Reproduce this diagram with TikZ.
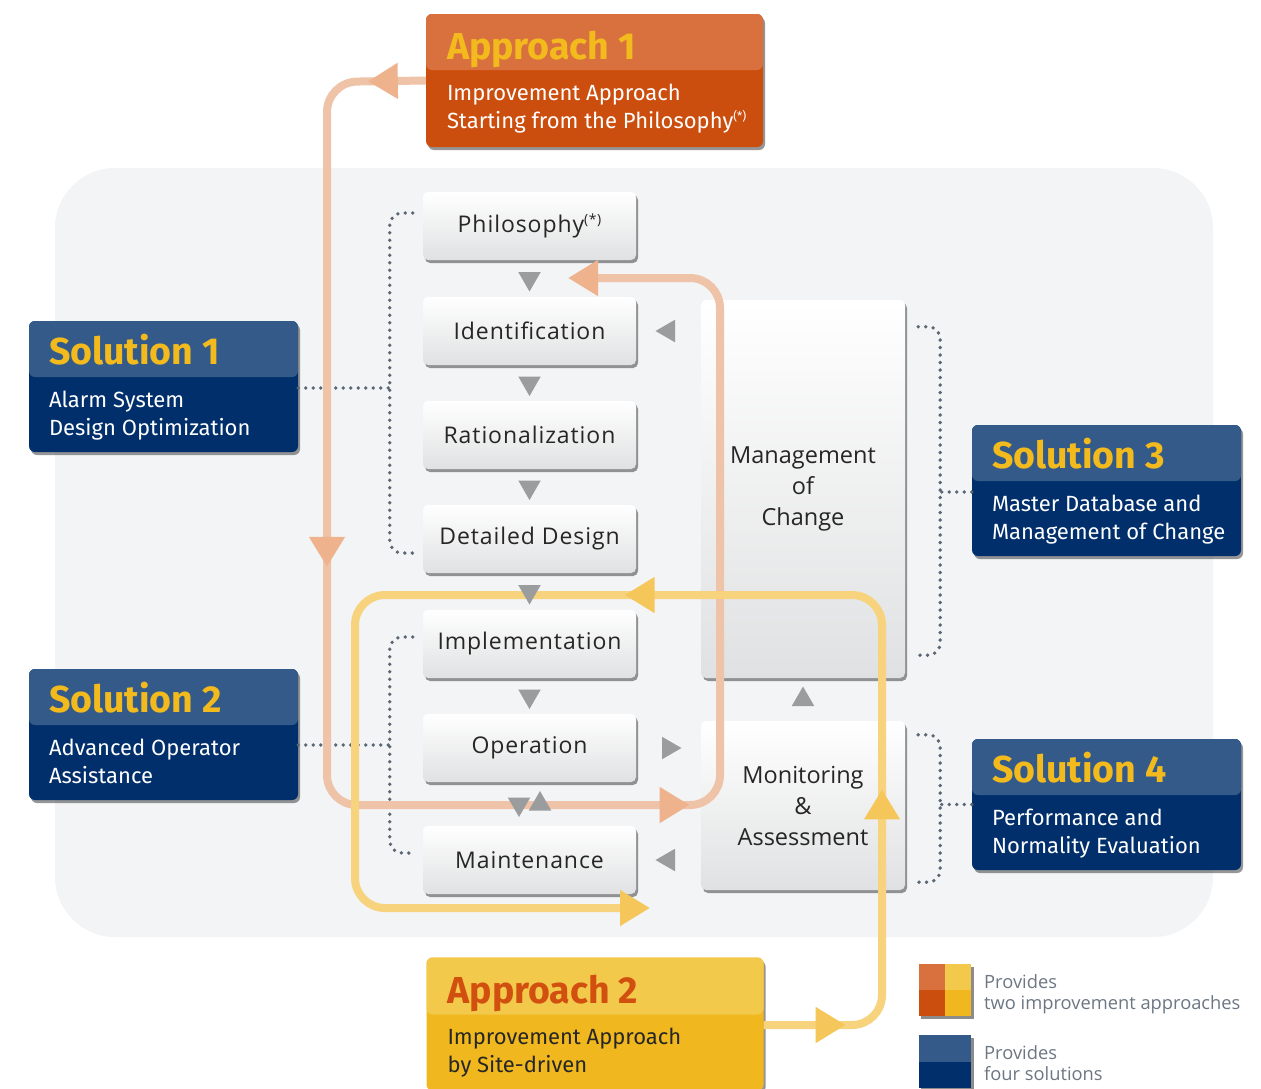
\documentclass[tikz,border=0pt]{standalone}
\usepackage{fontspec}
\setmainfont{Open Sans}
\newfontfamily\stepfont[LetterSpace=4.0]{Open Sans}
\newfontfamily\boxfont{Fira Sans}
\usetikzlibrary{calc,shapes.geometric,shadows,arrows.meta,decorations.markings}

\definecolor{panelgray}{HTML}{F3F4F6}
\definecolor{stepgray}{HTML}{E0E1E2}
\definecolor{textdark}{HTML}{262626}
\definecolor{trigray}{HTML}{9B9C9D}
\definecolor{dotgray}{HTML}{5A6774}
\definecolor{apporange}{HTML}{D9713F}
\definecolor{appdeep}{HTML}{CC4E0E}
\definecolor{appyellow}{HTML}{F2C94B}
\definecolor{appgold}{HTML}{F0B81E}
\definecolor{solhead}{HTML}{345A8A}
\definecolor{solblue}{HTML}{002F6C}
\definecolor{titlegold}{HTML}{F2BA1D}
\definecolor{titleorange}{HTML}{D2500F}
\definecolor{orangeloop}{HTML}{EFC3A7}
\definecolor{orangehead}{HTML}{EEB28D}
\definecolor{yellowloop}{HTML}{F6D37C}
\definecolor{yellowhead}{HTML}{F5C75B}
\definecolor{legendtext}{HTML}{6C7784}

\newcommand{\starnote}[2]{\raisebox{#1}{\fontsize{#2}{#2}\selectfont(*)}}

\tikzset{
  ohead/.tip={Triangle[length=30pt,width=34pt,color=orangehead]},
  yhead/.tip={Triangle[length=30pt,width=34pt,color=yellowhead]}
}

\begin{document}
\begin{tikzpicture}[x=1pt,y=-1pt,
  boxshadow/.style={drop shadow={shadow xshift=2pt,shadow yshift=-3pt,fill=black!75,opacity=.55}},
  stepbox/.style={rounded corners=5pt, minimum width=213pt, minimum height=68pt, inner sep=0pt,
    top color=white, bottom color=stepgray, boxshadow, text=textdark,
    font=\stepfont\fontsize{23}{28}\selectfont},
  cyclebox/.style={stepbox, minimum width=204pt, align=center,
    font=\fontsize{23.5}{31}\selectfont},
  solbox/.style={rounded corners=6pt, minimum width=269pt, minimum height=131pt, fill=solblue, boxshadow,
    path picture={\fill[solhead] (path picture bounding box.north west) rectangle ([yshift=-56pt]path picture bounding box.north east);}},
  appbox/.style={rounded corners=6pt, minimum width=337pt, minimum height=133pt, boxshadow},
  soltitle/.style={anchor=base west, inner sep=0pt, text=titlegold, font=\boxfont\bfseries\fontsize{37.5}{40}\selectfont},
  solbody/.style={anchor=base west, align=left, inner sep=0pt, text=white, font=\boxfont\fontsize{22}{28}\selectfont},
  tri/.style={regular polygon, regular polygon sides=3, fill=trigray, minimum size=26pt, inner sep=0pt},
  dotline/.style={draw=dotgray, line width=3.8pt, line cap=round, dash pattern=on 0pt off 7.5pt},
  loop/.style={line width=8pt, rounded corners=30pt},
  legend/.style={anchor=base west, align=left, inner sep=0pt, text=legendtext, font=\fontsize{18.3}{21}\selectfont}
]

\fill[white] (0,0) rectangle (1261,1088);
\useasboundingbox (0,0) rectangle (1261,1088);
\fill[panelgray, rounded corners=60pt] (55,168) rectangle (1213,937);

% life cycle steps
\node[stepbox] (phil)   at (529.5,226) {Philosophy\starnote{8pt}{14}};
\node[stepbox] (ident)  at (529.5,331) {Identification};
\node[stepbox] (ration) at (529.5,435) {Rationalization};
\node[stepbox] (detail) at (529.5,539) {Detailed Design};
\node[stepbox] (impl)   at (529.5,644) {Implementation};
\node[stepbox] (oper)   at (529.5,748) {Operation};
\node[stepbox] (maint)  at (529.5,860) {Maintenance};

\node[cyclebox, minimum height=378pt] (moc) at (803,489) {Management\\of\\Change};
\node[cyclebox, minimum height=169pt] (mon) at (803,805.5) {Monitoring\\\&\\Assessment};

% approaches
\node[appbox, fill=appdeep,
  path picture={\fill[apporange] (path picture bounding box.north west) rectangle ([yshift=-56pt]path picture bounding box.north east);}]
  (app1) at (594.5,80.5) {};
\node[soltitle] at ([shift={(21pt,-46pt)}]app1.north west) {Approach 1};
\node[solbody] at ([shift={(21pt,-115pt)}]app1.north west) {Improvement Approach\\Starting from the Philosophy\starnote{8pt}{12}};

\node[appbox, fill=appgold,
  path picture={\fill[appyellow] (path picture bounding box.north west) rectangle ([yshift=-57pt]path picture bounding box.north east);}]
  (app2) at (595,1024) {};
\node[soltitle, text=titleorange] at ([shift={(21pt,-46pt)}]app2.north west) {Approach 2};
\node[solbody, text=textdark] at ([shift={(21pt,-115pt)}]app2.north west) {Improvement Approach\\by Site-driven};

% solutions
\node[solbox] (sol1) at (163.5,386.5) {};
\node[soltitle] at ([shift={(20pt,-44pt)}]sol1.north west) {Solution 1};
\node[solbody] at ([shift={(20pt,-115pt)}]sol1.north west) {Alarm System\\Design Optimization};

\node[solbox] (sol2) at (163.5,734.5) {};
\node[soltitle] at ([shift={(20pt,-44pt)}]sol2.north west) {Solution 2};
\node[solbody] at ([shift={(20pt,-115pt)}]sol2.north west) {Advanced Operator\\Assistance};

\node[solbox] (sol3) at (1106.5,490.5) {};
\node[soltitle] at ([shift={(20pt,-44pt)}]sol3.north west) {Solution 3};
\node[solbody] at ([shift={(20pt,-115pt)}]sol3.north west) {Master Database and\\Management of Change};

\node[solbox] (sol4) at (1106.5,804.5) {};
\node[soltitle] at ([shift={(20pt,-44pt)}]sol4.north west) {Solution 4};
\node[solbody] at ([shift={(20pt,-115pt)}]sol4.north west) {Performance and\\Normality Evaluation};

% dotted brackets
\draw[dotline, rounded corners=12pt] ([shift={(-10pt,13pt)}]phil.west) -| ([xshift=-33pt]ration.west) |- ([shift={(-10pt,-14pt)}]detail.west);
\draw[dotline] ([yshift=-1.5pt]sol1.east) -- ++(92,0);
\draw[dotline, rounded corners=12pt] ([shift={(-10pt,7pt)}]impl.west) -| ([xshift=-33pt]oper.west) |- ([shift={(-10pt,7pt)}]maint.west);
\draw[dotline] ([yshift=-10.5pt]sol2.east) -- ++(92,0);
\draw[dotline, rounded corners=12pt] ([shift={(13pt,-27pt)}]moc.north east) -| ([xshift=35pt]moc.east) |- ([shift={(13pt,23pt)}]moc.south east);
\draw[dotline] ([yshift=-1.5pt]sol3.west) -- ++(-32,0);
\draw[dotline, rounded corners=12pt] ([shift={(13pt,-14pt)}]mon.north east) -| ([xshift=35pt]mon.east) |- ([shift={(13pt,8pt)}]mon.south east);
\draw[dotline] (sol4.west) -- ++(-32,0);

% improvement loops
\coordinate (oend) at (568,278);
\coordinate (yend) at (650,908);
\draw[loop, draw=orangeloop, -ohead,
  postaction={decorate, decoration={markings,
    mark=at position 58pt with {\arrow{ohead}},
    mark=at position 571pt with {\arrow{ohead}},
    mark=at position 1159pt with {\arrow{ohead}}}}]
  (app1.west) -- (327,82) -- (327,805) -- (720,805) -- (720,278) -- (oend);
\draw[loop, draw=yellowloop, -yhead,
  postaction={decorate, decoration={markings,
    mark=at position 82pt with {\arrow{yhead}},
    mark=at position 341pt with {\arrow{yhead}},
    mark=at position 780pt with {\arrow{yhead}}}}]
  (app2.east |- 0,1025) -- (882,1025) -- (882,595) -- (355,595) -- (355,908) -- (yend);

% flow markers
\foreach \a/\b in {phil/ident, ident/ration, ration/detail, detail/impl, impl/oper}
  \node[tri, shape border rotate=180] (d-\a) at ($(\a.south)!.5!(\b.north)$) {};
\node[tri, shape border rotate=180] (d-oper) at ([xshift=-10.5pt]$(oper.south)!.5!(maint.north)$) {};
\node[tri] (u-maint) at ([xshift=10.5pt]$(oper.south)!.5!(maint.north)$) {};
\node[tri, shape border rotate=90] (l-moc) at ($(ident.east)!.5!(ident.east -| moc.west)$) {};
\node[tri, shape border rotate=-90] (r-oper) at ($(oper.east)!.5!(oper.east -| mon.west)$) {};
\node[tri, shape border rotate=90] (l-mon) at ($(maint.east)!.5!(maint.east -| mon.west)$) {};
\node[tri] (u-mon) at ($(mon.north)!.5!(moc.south)$) {};

% legend
\fill[black!45] (921,967) rectangle (974,1019);
\fill[apporange] (919,964) rectangle (945,990);
\fill[appyellow] (945,964) rectangle (971,990);
\fill[appdeep] (919,990) rectangle (945,1016);
\fill[appgold] (945,990) rectangle (971,1016);
\node[legend] (leg1) at (984,1009) {Provides\\two improvement approaches};
\fill[black!45] (921,1038) rectangle (974,1090);
\fill[solhead] (919,1035) rectangle (971,1062);
\fill[solblue] (919,1062) rectangle (971,1088);
\node[legend] (leg2) at (984,1080) {Provides\\four solutions};

\end{tikzpicture}
\end{document}
